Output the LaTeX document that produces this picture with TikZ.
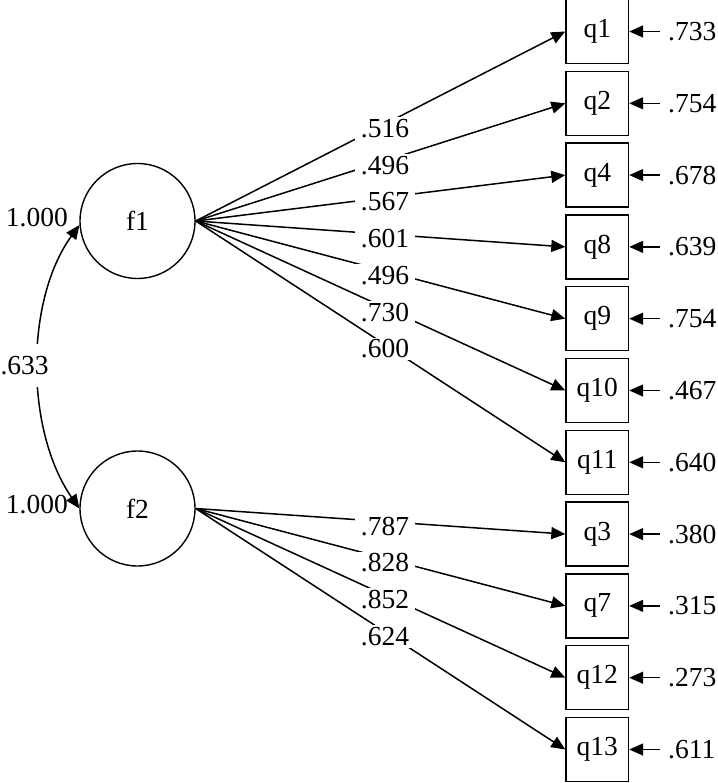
\documentclass[tikz,border=0pt]{standalone}
\usepackage{fontspec}
\setmainfont{Liberation Serif}
\usetikzlibrary{arrows.meta}
\tikzset{
  lat/.style={draw, circle, minimum size=115pt, inner sep=0pt, line width=1.4pt},
  obs/.style={draw, rectangle, minimum width=62.5pt, minimum height=64pt, inner sep=0pt, line width=1.4pt},
  arr/.style={line width=1.5pt, -{Triangle[length=14pt,width=12pt]}},
  darr/.style={line width=1.5pt, {Triangle[length=14pt,width=12pt]}-{Triangle[length=14pt,width=12pt]}},
  lbl/.style={fill=white, inner xsep=6pt, inner ysep=2pt, yshift=-4.5pt},
  errlbl/.style={anchor=west, inner xsep=8pt, inner ysep=0pt},
  txt/.style={font=\fontsize{27.5}{32}\selectfont}
}
\begin{document}
\begin{tikzpicture}[x=1pt, y=-1pt, every node/.append style={txt}]
\useasboundingbox (0,0) rectangle (717,783);
\node[lat] (f1) at (137.5,221) {f1};
\node[lat] (f2) at (137.5,508.5) {f2};
\node[anchor=east, inner sep=0pt] (v1) at (68,218) {1.000};
\node[anchor=east, inner sep=0pt] (v2) at (68,505) {1.000};
\draw[darr] (f1.184) .. controls (25,300) and (25,430) .. (f2.180)
  node[pos=0.5, xshift=-14pt, fill=white, inner xsep=1pt, inner ysep=12pt] (cv) {.633};
\foreach \n/\ld/\er/\i/\f in {q1/.516/.733/0/f1, q2/.496/.754/1/f1, q4/.567/.678/2/f1,
  q8/.601/.639/3/f1, q9/.496/.754/4/f1, q10/.730/.467/5/f1, q11/.600/.640/6/f1,
  q3/.787/.380/7/f2, q7/.828/.315/8/f2, q12/.852/.273/9/f2, q13/.624/.611/10/f2}{
  \pgfmathsetmacro{\yy}{31.5+71.8*\i}
  \node[obs] (\n) at (597.25,\yy) {\n};
  \node[errlbl] (e\n) at (660,\yy) {\er};
  \draw[arr] (e\n.west) -- (\n.east);
  \draw[arr] (\f.east) -- node[lbl, pos=0.512] (l\n) {\ld} (\n.west);
}
\end{tikzpicture}
\end{document}
